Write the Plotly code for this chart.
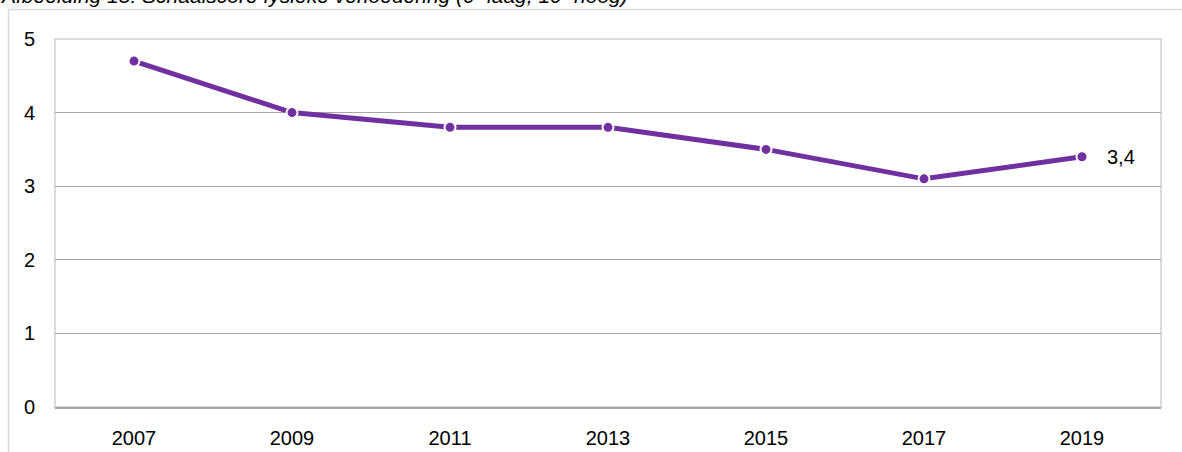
import plotly.graph_objects as go

years = ["2007", "2009", "2011", "2013", "2015", "2017", "2019"]
scores = [4.7, 4.0, 3.8, 3.8, 3.5, 3.1, 3.4]
y_ticks = [0, 1, 2, 3, 4, 5]
title_text = "Afbeelding 15: Schaalscore fysieke verloedering (0=laag, 10=hoog)"
last_label = "3,4"

W, H = 1182, 452
L, R, T, B = 55, 21, 39, 45
pw, ph = W - L - R, H - T - B

def px(x):
    return (x - L) / pw

def py(y):
    return (H - B - y) / ph

purple = "#7030A0"

fig = go.Figure()
fig.add_trace(go.Scatter(
    x=years, y=scores, mode="lines+markers",
    line=dict(color=purple, width=5),
    marker=dict(size=11, color=purple, line=dict(color="white", width=2)),
    hoverinfo="x+y", showlegend=False, cliponaxis=False,
))

fig.add_annotation(x=len(years) - 1, y=scores[-1], text=last_label, showarrow=False,
                   xanchor="left", xshift=23, font=dict(size=20, color="#000000"))

fig.add_annotation(xref="paper", yref="paper", x=px(-1), y=py(8), xanchor="left",
                   yanchor="bottom", text="<i>" + title_text + "</i>", showarrow=False,
                   font=dict(size=21, color="#000000"), borderpad=0)

# outer chart-area frame (left and top edges)
fig.add_shape(type="line", xref="paper", yref="paper", x0=px(8.5), x1=px(1200),
              y0=py(9.5), y1=py(9.5), line=dict(color="#d9d9d9", width=1.5))
fig.add_shape(type="line", xref="paper", yref="paper", x0=px(8.5), x1=px(8.5),
              y0=py(9.5), y1=py(470), line=dict(color="#d9d9d9", width=1.5))
# plot-area border
fig.add_shape(type="rect", xref="paper", yref="paper", x0=0, x1=1, y0=0, y1=1,
              line=dict(color="#d0d0d0", width=1.5), layer="below")

fig.update_layout(
    width=W, height=H,
    margin=dict(l=L, r=R, t=T, b=B, autoexpand=False),
    paper_bgcolor="white", plot_bgcolor="white",
    font=dict(family="Liberation Sans, Arial, sans-serif", size=20, color="#000000"),
    xaxis=dict(type="category", range=[-0.5, 6.5], showgrid=False, automargin=False,
               showline=True, linecolor="#a6a6a6", linewidth=1.5,
               ticks="", ticklabelstandoff=12, tickfont=dict(size=20)),
    yaxis=dict(range=[0, 5], tickvals=y_ticks, showgrid=True, automargin=False,
               gridcolor="#a6a6a6", gridwidth=1, zeroline=False,
               showline=False, ticks="", ticklabelstandoff=19,
               tickfont=dict(size=20)),
)

fig.write_html("out.html", config={"displayModeBar": False},
               post_script="document.body.style.margin='0';")
